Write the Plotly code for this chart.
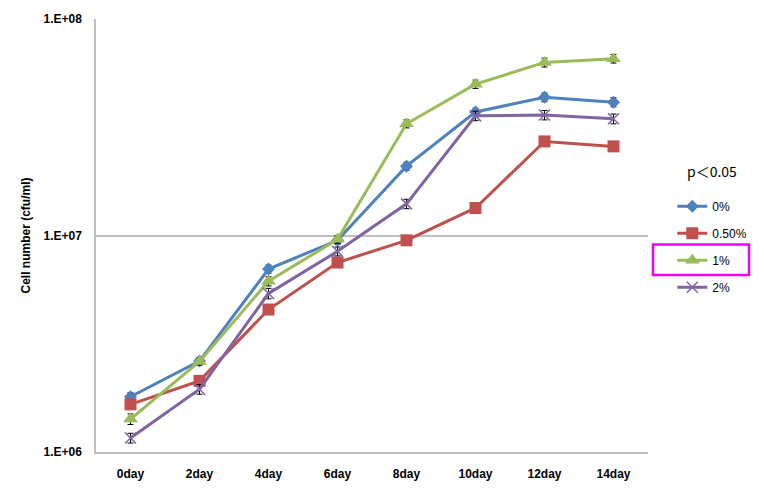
import plotly.graph_objects as go

days = ["0day", "2day", "4day", "6day", "8day", "10day", "12day", "14day"]
series_names = ["0%", "0.50%", "1%", "2%"]
v0 = [1.80e6, 2.63e6, 7.0e6, 9.5e6, 2.09e7, 3.72e7, 4.35e7, 4.13e7]
v05 = [1.66e6, 2.13e6, 4.55e6, 7.5e6, 9.5e6, 1.34e7, 2.72e7, 2.58e7]
v1 = [1.42e6, 2.62e6, 6.15e6, 9.6e6, 3.28e7, 5.0e7, 6.3e7, 6.56e7]
v2 = [1.16e6, 1.95e6, 5.4e6, 8.45e6, 1.40e7, 3.57e7, 3.60e7, 3.46e7]
e0 = [0.08e6, 0.1e6, 0.3e6, 0.4e6, 0.9e6, 1.5e6, 2.0e6, 2.0e6]
e05 = [0.05e6, 0.05e6, 0.1e6, 0.1e6, 0.2e6, 0.3e6, 0.5e6, 0.5e6]
e1 = [0.08e6, 0.1e6, 0.3e6, 0.4e6, 1.4e6, 2.2e6, 3.0e6, 3.0e6]
e2 = [0.06e6, 0.1e6, 0.3e6, 0.4e6, 0.7e6, 1.8e6, 1.8e6, 1.8e6]
ytick_vals = [1e6, 1e7, 1e8]
ytick_text = ["1.E+06", "1.E+07", "1.E+08"]
legend_title = "p＜0.05"

colors = ["#4F81BD", "#C0504D", "#9BBB59", "#8064A2"]
symbols = ["diamond", "square", "triangle-up", "x-thin"]
sizes = [10, 12, 13, 11]
values = [v0, v05, v1, v2]
errors = [e0, e05, e1, e2]

fig = go.Figure()
for i, name in enumerate(series_names):
    marker = dict(symbol=symbols[i], size=sizes[i], color=colors[i])
    if symbols[i] == "x-thin":
        marker["line"] = dict(color=colors[i], width=1.5)
    fig.add_trace(go.Scatter(
        x=days, y=values[i], name=name, mode="lines+markers",
        line=dict(color=colors[i], width=3),
        marker=marker,
        legendgroup=name,
        error_y=dict(type="data", array=errors[i], color="black",
                     thickness=1, width=3, visible=True),
    ))

fig.update_layout(
    width=764, height=493,
    margin=dict(l=96, r=105, t=17, b=38),
    paper_bgcolor="white", plot_bgcolor="white",
    font=dict(family="Liberation Sans, Arial, sans-serif", color="black"),
    showlegend=True,
    legend=dict(
        x=1.044, y=0.601, xanchor="left", yanchor="top",
        font=dict(size=12, family="Liberation Sans, Arial, sans-serif"),
        tracegroupgap=8, itemwidth=30, borderwidth=0,
        bgcolor="rgba(0,0,0,0)",
    ),
    xaxis=dict(
        type="category", range=[-0.5, 7.5],
        showline=True, linecolor="#BFBFBF", linewidth=1.5,
        showgrid=False, ticks="", zeroline=False,
        tickfont=dict(size=12, family="Liberation Sans, Arial, sans-serif", weight="bold"),
        ticklabelstandoff=10,
    ),
    yaxis=dict(
        type="log", range=[6, 8],
        tickvals=ytick_vals, ticktext=ytick_text,
        showline=True, linecolor="#BFBFBF", linewidth=1.5,
        showgrid=True, gridcolor="#BFBFBF", gridwidth=1.5,
        ticks="", zeroline=False, ticklabelstandoff=10,
        tickfont=dict(size=12, family="Liberation Sans, Arial, sans-serif", weight="bold"),
        title=dict(text="Cell number (cfu/ml)", standoff=10,
                   font=dict(size=12, family="Liberation Sans, Arial, sans-serif", weight="bold")),
    ),
    annotations=[dict(text=legend_title, xref="paper", yref="paper",
                      x=1.116, y=0.648, xanchor="center", yanchor="middle",
                      showarrow=False,
                      font=dict(size=14, family="Noto Sans CJK SC, sans-serif"))],
    shapes=[dict(type="rect", xref="paper", yref="paper",
                 x0=1.009, x1=1.183, y0=0.409, y1=0.479,
                 line=dict(color="#F000F0", width=2.5))],
)

fig.write_html("out.html")
